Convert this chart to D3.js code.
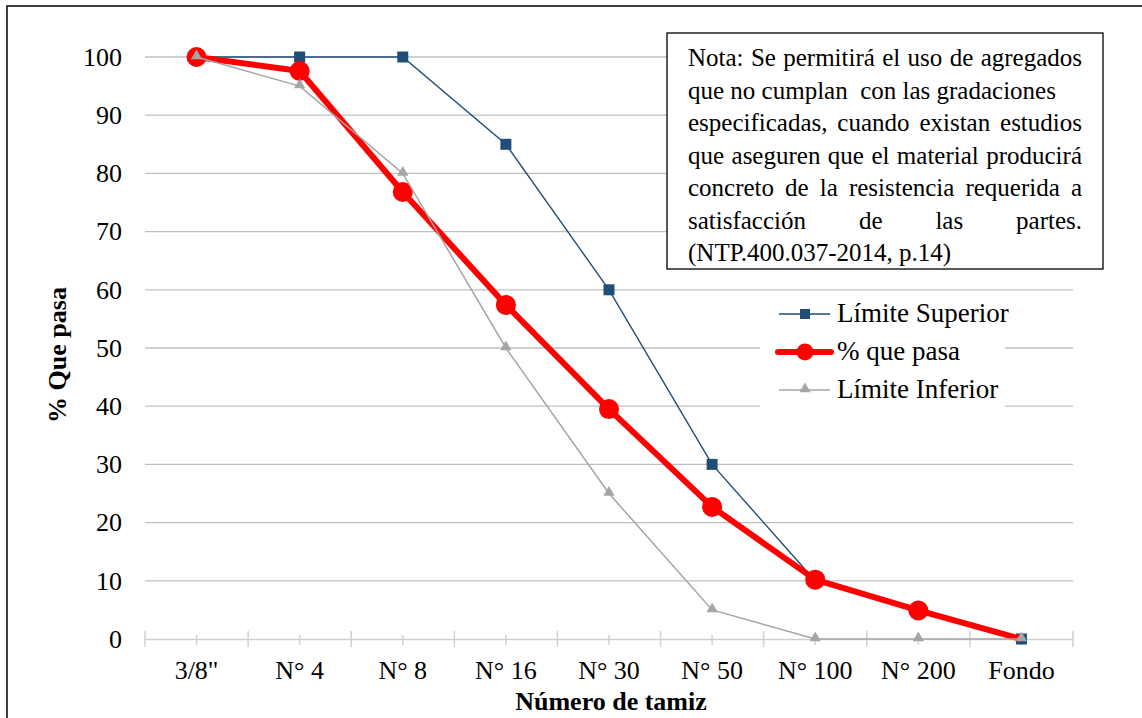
<!DOCTYPE html>
<html>
<head>
<meta charset="utf-8">
<script src="https://cdn.jsdelivr.net/npm/d3@7"></script>
<style>
  body { margin: 0; background: #fff; }
  svg { display: block; }
  svg text { font-family: "Liberation Serif", "Times New Roman", serif; fill: #000; }
</style>
</head>
<body>
<div id="chart"></div>
<script>
// tamices
const categories = ['3/8"', 'N° 4', 'N° 8', 'N° 16', 'N° 30', 'N° 50', 'N° 100', 'N° 200', 'Fondo'];
const limiteSuperior = [100, 100, 100, 85, 60, 30, 10, 5, 0];
const quePasa = [100, 97.6, 76.8, 57.4, 39.5, 22.7, 10.2, 4.9, 0];
const limiteInferior = [100, 95, 80, 50, 25, 5, 0, 0, 0];
const yTicks = [0, 10, 20, 30, 40, 50, 60, 70, 80, 90, 100];

const nota = [
  'Nota: Se permitirá el uso de agregados',
  'que no cumplan  con las gradaciones',
  'especificadas, cuando existan estudios',
  'que aseguren que el material producirá',
  'concreto de la resistencia requerida a',
  'satisfacción de las partes.',
  '(NTP.400.037-2014, p.14)'
];
const justificada = [true, false, true, true, true, true, false];

const width = 1142, height = 718;
const plotLeft = 145, plotRight = 1073, plotTop = 57, plotBottom = 639;

const svg = d3.select('#chart').append('svg')
  .attr('width', width)
  .attr('height', height);

// marco exterior
svg.append('rect')
  .attr('x', 7).attr('y', 6)
  .attr('width', 1160).attr('height', 740)
  .attr('fill', 'none').attr('stroke', '#000').attr('stroke-width', 1.5);

const x = d3.scaleBand().domain(categories).range([plotLeft, plotRight]);
const y = d3.scaleLinear().domain([0, 100]).range([plotBottom, plotTop]);
const cx = d => x(d) + x.bandwidth() / 2;

// grid
svg.append('g')
  .selectAll('line')
  .data(yTicks.filter(d => d > 0))
  .enter().append('line')
  .attr('x1', plotLeft).attr('x2', plotRight)
  .attr('y1', d => y(d)).attr('y2', d => y(d))
  .attr('stroke', '#bfbfbf').attr('stroke-width', 1.3);

// eje y
const yAxis = svg.append('g')
  .attr('transform', `translate(${plotLeft},0)`)
  .call(d3.axisLeft(y).tickValues(yTicks).tickSize(0).tickPadding(23));
yAxis.select('.domain').remove();
yAxis.selectAll('text')
  .attr('font-size', 26)
  .attr('font-family', '"Liberation Serif", serif');

// eje x
const xAxis = svg.append('g')
  .attr('transform', `translate(0,${plotBottom})`)
  .call(d3.axisBottom(x).tickSize(0).tickPadding(22));
xAxis.select('.domain').attr('stroke', '#d0d0d0').attr('stroke-width', 1.5);
xAxis.selectAll('text')
  .attr('font-size', 26)
  .attr('font-family', '"Liberation Serif", serif');

// marcas: bordes de cada banda y centros
const bordes = categories.map(d => x(d)).concat([plotRight]);
svg.append('g')
  .selectAll('line')
  .data(bordes)
  .enter().append('line')
  .attr('x1', d => d).attr('x2', d => d)
  .attr('y1', plotBottom - 8).attr('y2', plotBottom + 8)
  .attr('stroke', '#d0d0d0').attr('stroke-width', 1.5);
svg.append('g')
  .selectAll('line')
  .data(categories)
  .enter().append('line')
  .attr('x1', d => cx(d)).attr('x2', d => cx(d))
  .attr('y1', plotBottom - 4).attr('y2', plotBottom + 6)
  .attr('stroke', '#d0d0d0').attr('stroke-width', 1.5);

// titulos
svg.append('text')
  .attr('transform', `translate(66,355) rotate(-90)`)
  .attr('text-anchor', 'middle')
  .attr('font-size', 26).attr('font-weight', 'bold')
  .text('% Que pasa');

svg.append('text')
  .attr('x', 611).attr('y', 710)
  .attr('text-anchor', 'middle')
  .attr('font-size', 26).attr('font-weight', 'bold')
  .text('Número de tamiz');

const line = d3.line().x((d, i) => cx(categories[i])).y(d => y(d));

// limite superior
svg.append('path')
  .datum(limiteSuperior)
  .attr('d', line)
  .attr('fill', 'none').attr('stroke', '#1f4e79').attr('stroke-width', 1.4);
svg.append('g').selectAll('rect')
  .data(limiteSuperior)
  .enter().append('rect')
  .attr('x', (d, i) => cx(categories[i]) - 5.5)
  .attr('y', d => y(d) - 5.5)
  .attr('width', 11).attr('height', 11)
  .attr('fill', '#1f4e79');

// % que pasa (sin marcador en "Fondo", como en el original)
svg.append('path')
  .datum(quePasa)
  .attr('d', line)
  .attr('fill', 'none').attr('stroke', '#ff0000').attr('stroke-width', 6)
  .attr('stroke-linejoin', 'round');
svg.append('g').selectAll('circle')
  .data(quePasa.slice(0, -1))
  .enter().append('circle')
  .attr('cx', (d, i) => cx(categories[i]))
  .attr('cy', d => y(d))
  .attr('r', 10)
  .attr('fill', '#ff0000');

// limite inferior
const tri = d3.symbol().type(d3.symbolTriangle).size(55);
svg.append('path')
  .datum(limiteInferior)
  .attr('d', line)
  .attr('fill', 'none').attr('stroke', '#a5a5a5').attr('stroke-width', 1.5);
svg.append('g').selectAll('path')
  .data(limiteInferior)
  .enter().append('path')
  .attr('d', tri)
  .attr('transform', (d, i) => `translate(${cx(categories[i])},${y(d) - 1})`)
  .attr('fill', '#a5a5a5');

// leyenda
const leg = svg.append('g');
leg.append('rect')
  .attr('x', 760).attr('y', 297).attr('width', 245).attr('height', 112)
  .attr('fill', '#fff');
const legItems = [
  { name: 'Límite Superior', color: '#1f4e79', w: 1.4, mark: 'sq' },
  { name: '% que pasa', color: '#ff0000', w: 6, mark: 'ci' },
  { name: 'Límite Inferior', color: '#a5a5a5', w: 1.5, mark: 'tr' }
];
legItems.forEach((it, i) => {
  const ly = 314 + i * 38;
  leg.append('line')
    .attr('x1', it.w > 3 ? 778 : 779).attr('x2', it.w > 3 ? 831 : 830)
    .attr('y1', ly).attr('y2', ly)
    .attr('stroke', it.color).attr('stroke-width', it.w)
    .attr('stroke-linecap', it.w > 3 ? 'round' : 'butt');
  if (it.mark === 'sq') {
    leg.append('rect').attr('x', 800).attr('y', ly - 5).attr('width', 10).attr('height', 10).attr('fill', it.color);
  } else if (it.mark === 'ci') {
    leg.append('circle').attr('cx', 805).attr('cy', ly).attr('r', 8.5).attr('fill', it.color);
  } else {
    leg.append('path').attr('d', tri).attr('transform', `translate(805,${ly - 1})`).attr('fill', it.color);
  }
  leg.append('text')
    .attr('x', 837).attr('y', ly + 8)
    .attr('font-size', 27)
    .text(it.name);
});

// nota
svg.append('rect')
  .attr('x', 667).attr('y', 33).attr('width', 436).attr('height', 236)
  .attr('fill', '#fff').attr('stroke', '#000').attr('stroke-width', 1.3);

const tx0 = 688, tx1 = 1082;
nota.forEach((ln, i) => {
  const by = 66 + i * 32.5;
  if (!justificada[i]) {
    svg.append('text').attr('x', tx0).attr('y', by).attr('font-size', 25)
      .attr('xml:space', 'preserve').text(ln);
    return;
  }
  const words = ln.split(' ');
  const g = svg.append('g');
  const nodes = words.map(w => g.append('text').attr('y', by).attr('font-size', 25).text(w));
  const widths = nodes.map(n => n.node().getComputedTextLength());
  const total = d3.sum(widths);
  const gap = (tx1 - tx0 - total) / (words.length - 1);
  let cur = tx0;
  nodes.forEach((n, j) => { n.attr('x', cur); cur += widths[j] + gap; });
});
</script>
</body>
</html>
